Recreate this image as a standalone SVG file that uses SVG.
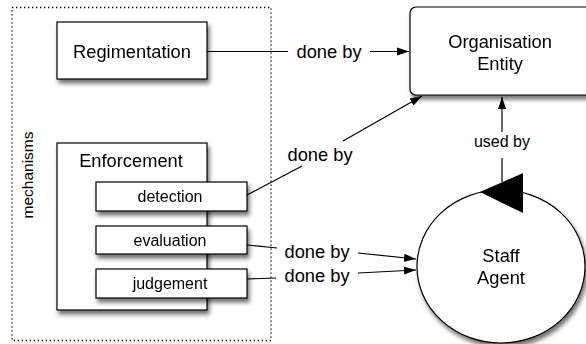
<svg xmlns="http://www.w3.org/2000/svg" width="586" height="344" viewBox="0 0 586 344">
  <defs>
    <filter id="shadow" x="-20%" y="-20%" width="150%" height="150%">
      <feGaussianBlur in="SourceAlpha" stdDeviation="2.2"/>
      <feOffset dx="2" dy="4" result="blur"/>
      <feComponentTransfer><feFuncA type="linear" slope="0.55"/></feComponentTransfer>
      <feMerge><feMergeNode/><feMergeNode in="SourceGraphic"/></feMerge>
    </filter>
    <marker id="arrow" viewBox="0 0 12 10" refX="12" refY="5" markerWidth="12" markerHeight="10" markerUnits="userSpaceOnUse" orient="auto">
      <path d="M0,1 L12,5 L0,9 Z" fill="#000"/>
    </marker>
    <style>
      .box { fill: #fff; stroke: #000; stroke-width: 1.2; }
      .edge { fill: none; stroke: #000; stroke-width: 1.2; }
      .big { font-family: "Liberation Sans", Arial, sans-serif; font-size: 18.3px; fill: #000; text-anchor: middle; }
      .small { font-family: "Liberation Sans", Arial, sans-serif; font-size: 16px; fill: #000; text-anchor: middle; }
      .side { font-family: "Liberation Sans", Arial, sans-serif; font-size: 15.5px; fill: #000; text-anchor: middle; }
    </style>
  </defs>

  <rect width="586" height="344" fill="#fff"/>

  <!-- mechanisms boundary -->
  <g id="mechanisms">
    <rect x="12" y="7.5" width="259" height="333" fill="none" stroke="#000" stroke-width="1.3" stroke-dasharray="1.3 2.7"/>
    <text class="side" transform="translate(33,175) rotate(-90)">mechanisms</text>
  </g>

  <g id="regimentation" filter="url(#shadow)">
    <rect class="box" x="57" y="22" width="150" height="57"/>
    <text class="big" x="132" y="58">Regimentation</text>
  </g>

  <g id="enforcement">
    <g filter="url(#shadow)">
      <rect class="box" x="57" y="143" width="150" height="167"/>
      <text class="big" x="131" y="167">Enforcement</text>
    </g>
    <g id="detection" filter="url(#shadow)">
      <rect class="box" x="96" y="182" width="151" height="29"/>
      <text class="small" x="170" y="202">detection</text>
    </g>
    <g id="evaluation" filter="url(#shadow)">
      <rect class="box" x="96" y="226" width="151" height="28"/>
      <text class="small" x="170" y="246">evaluation</text>
    </g>
    <g id="judgement" filter="url(#shadow)">
      <rect class="box" x="96" y="269" width="151" height="29"/>
      <text class="small" x="170" y="289">judgement</text>
    </g>
  </g>

  <g id="organisation" filter="url(#shadow)">
    <rect class="box" x="410" y="7" width="184" height="88" rx="6"/>
    <text class="big" x="500" y="48">Organisation</text>
    <text class="big" x="500" y="70">Entity</text>
  </g>

  <g id="staff" filter="url(#shadow)">
    <ellipse class="box" cx="501" cy="266.5" rx="84" ry="76.5"/>
    <text class="big" x="501" y="262">Staff</text>
    <text class="big" x="501" y="284">Agent</text>
  </g>

  <g id="connectors">
    <!-- Regimentation to Organisation -->
    <line class="edge" x1="207" y1="51.5" x2="288" y2="51.5"/>
    <text class="big" x="329" y="58">done by</text>
    <line class="edge" x1="370" y1="51.5" x2="409" y2="51.5" marker-end="url(#arrow)"/>

    <!-- detection to Organisation -->
    <line class="edge" x1="247" y1="195" x2="302" y2="166"/>
    <text class="big" x="320" y="161">done by</text>
    <line class="edge" x1="343" y1="141" x2="422" y2="96" marker-end="url(#arrow)"/>

    <!-- evaluation to Staff Agent -->
    <line class="edge" x1="247" y1="245" x2="277" y2="248"/>
    <text class="big" x="317" y="258">done by</text>
    <line class="edge" x1="358" y1="253" x2="416" y2="259" marker-end="url(#arrow)"/>

    <!-- judgement to Staff Agent -->
    <line class="edge" x1="247" y1="279" x2="276" y2="278"/>
    <text class="big" x="317" y="282">done by</text>
    <line class="edge" x1="358" y1="273" x2="416" y2="270" marker-end="url(#arrow)"/>

    <!-- Staff Agent to Organisation -->
    <line class="edge" x1="502" y1="132" x2="502" y2="97" marker-end="url(#arrow)"/>
    <text class="small" x="502" y="147">used by</text>
    <line class="edge" x1="502" y1="158" x2="502" y2="182"/>
    <polygon points="480,192 523,173 523,213" fill="#000"/>
  </g>
</svg>
